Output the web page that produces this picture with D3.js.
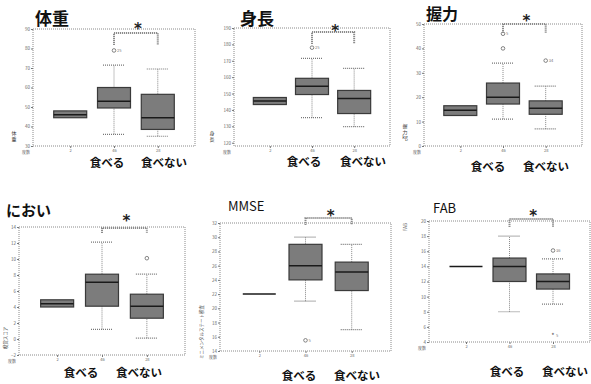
<!DOCTYPE html>
<html>
<head>
<meta charset="utf-8">
<script src="https://cdn.jsdelivr.net/npm/d3@7"></script>
<style>
  body { margin: 0; background: #fff; }
  text { font-family: "Noto Sans CJK JP", "Noto Sans", sans-serif; }
</style>
</head>
<body>
<svg id="chart" width="591" height="384"></svg>
<script>
// x groups
const groups = ["基準", "食べる", "食べない"];
const groupN = ["2", "46", "28"];

// box stats per group: [lower whisker, q1, median, q3, upper whisker]
const weightBoxes = [[44.5, 44.5, 46, 48, 48], [36, 49.5, 53, 60, 71.5], [35, 38.5, 44.5, 56.5, 69.5]];
const weightOutliers = [[1, 79, "25"]];
const weightTicks = [30, 40, 50, 60, 70, 80, 90];
const weightRange = [30, 90];

const heightBoxes = [[143.3, 143.3, 145.5, 147.6, 147.6], [135.3, 149.4, 154.4, 159.3, 171.5], [129.8, 137.8, 147, 151.9, 165.4]];
const heightOutliers = [[1, 178, "25"]];
const heightTicks = [120, 130, 140, 150, 160, 170, 180, 190];
const heightRange = [118, 190];

const gripBoxes = [[12.5, 12.5, 14.7, 16.5, 16.5], [11, 17.2, 20, 25.8, 34], [7, 13, 15.5, 18.5, 24.5]];
const gripOutliers = [[1, 40, ""], [1, 46, "5"], [2, 35, "34"]];
const gripTicks = [0, 10, 20, 30, 40, 50];
const gripRange = [0, 50];

const smellBoxes = [[4, 4, 4.4, 4.9, 4.9], [1.2, 4.1, 7.1, 8.1, 12.1], [0.1, 2.6, 4.1, 5.6, 8.1]];
const smellOutliers = [[2, 10.1, ""]];
const smellTicks = [-2, 0, 2, 4, 6, 8, 10, 12, 14];
const smellRange = [-2, 14];

const mmseBoxes = [[22, 22, 22, 22, 22], [21, 24, 26, 29, 30], [17, 22.5, 25.1, 26.5, 29]];
const mmseOutliers = [[1, 15.5, "5"]];
const mmseTicks = [14, 16, 18, 20, 22, 24, 26, 28, 30, 32];
const mmseRange = [14, 32];

const fabBoxes = [[14, 14, 14, 14, 14], [8, 12, 14, 15.1, 18], [9, 11, 12, 13, 15]];
const fabOutliers = [[2, 16.1, "36"]];
const fabExtremes = [[2, 4.9, "5"]];
const fabTicks = [4, 6, 8, 10, 12, 14, 16, 18, 20];
const fabRange = [4, 20];

// panel layout
const panels = [
  { title: "体重", tx: 35, ty: 25, ts: 17, tw: "bold", boxes: weightBoxes, out: weightOutliers, ext: [], ticks: weightTicks, range: weightRange,
    x0: 33, x1: 195, y0: 29, y1: 146, brTop: 33, brBot: 45, starY: 25, lab1: 107, lab2: 164, labY: 163,
    yTitle: ["体", "重"], ytx: 14, yty: 135, yRot: false },
  { title: "身長", tx: 240, ty: 25, ts: 17, tw: "bold", boxes: heightBoxes, out: heightOutliers, ext: [], ticks: heightTicks, range: heightRange,
    x0: 234, x1: 390, y0: 28, y1: 146, brTop: 32, brBot: 44, starY: 27, lab1: 304, lab2: 363, labY: 162,
    yTitle: ["身", "長"], ytx: 212, yty: 135, yRot: false },
  { title: "握力", tx: 426, ty: 20, ts: 16, tw: "bold", boxes: gripBoxes, out: gripOutliers, ext: [], ticks: gripTicks, range: gripRange,
    x0: 424, x1: 582, y0: 24, y1: 146, brTop: 24, brBot: 33, starY: 17, lab1: 488, lab2: 546, labY: 167,
    yTitle: ["握", "力", "kg"], ytx: 405, yty: 128, yRot: false },
  { title: "におい", tx: 6, ty: 216, ts: 15, tw: "bold", boxes: smellBoxes, out: smellOutliers, ext: [], ticks: smellTicks, range: smellRange,
    x0: 19, x1: 185, y0: 227, y1: 355, brTop: 228, brBot: 233, starY: 217, lab1: 81, lab2: 139, labY: 373,
    yTitle: "嗅覚スコア", ytx: 5, yty: 338, yRot: true },
  { title: "MMSE", tx: 228, ty: 211, ts: 13, tw: "normal", boxes: mmseBoxes, out: mmseOutliers, ext: [], ticks: mmseTicks, range: mmseRange,
    x0: 220, x1: 391, y0: 223, y1: 351, brTop: 218, brBot: 225, starY: 212, lab1: 299, lab2: 357, labY: 376,
    yTitle: "ミニメンタルステート検査", ytx: 201, yty: 332, yRot: true },
  { title: "FAB", tx: 433, ty: 213, ts: 13, tw: "normal", boxes: fabBoxes, out: fabOutliers, ext: fabExtremes, ticks: fabTicks, range: fabRange,
    x0: 429, x1: 590, y0: 221, y1: 342, brTop: 219, brBot: 227, starY: 212, lab1: 507, lab2: 565, labY: 372,
    yTitle: "FAB", ytx: 405, yty: 227, yRot: true }
];

const svg = d3.select("#chart");
const boxFill = "#7c7c7c";
const dotted = "1,1";

panels.forEach(function (p) {
  const g = svg.append("g");

  const x = d3.scalePoint()
    .domain(groups)
    .range([p.x0, p.x1])
    .padding(0.85);
  const y = d3.scaleLinear()
    .domain(p.range)
    .range([p.y1, p.y0]);

  // frame
  g.append("rect")
    .attr("x", p.x0).attr("y", p.y0)
    .attr("width", p.x1 - p.x0).attr("height", p.y1 - p.y0)
    .attr("fill", "none")
    .attr("stroke", "#8a8a8a")
    .attr("stroke-dasharray", dotted);

  // y axis
  const yAxis = d3.axisLeft(y).tickValues(p.ticks).tickSize(2).tickPadding(1);
  const ya = g.append("g").attr("transform", `translate(${p.x0},0)`).call(yAxis);
  ya.select(".domain").remove();
  ya.selectAll("line").attr("stroke", "#777");
  ya.selectAll("text").attr("font-size", 4.5).attr("fill", "#666");

  // x axis (group counts)
  const xAxis = d3.axisBottom(x).tickSize(2).tickPadding(1).tickFormat((d, i) => groupN[i]);
  const xa = g.append("g").attr("transform", `translate(0,${p.y1})`).call(xAxis);
  xa.select(".domain").remove();
  xa.selectAll("line").attr("stroke", "#777");
  xa.selectAll("text").attr("font-size", 4).attr("fill", "#666");
  g.append("text")
    .attr("x", p.x0 - 3).attr("y", p.y1 + 8)
    .attr("text-anchor", "end")
    .attr("font-size", 4).attr("fill", "#666")
    .text("度数");

  // boxes
  const bw = 33, cap = 22;
  p.boxes.forEach(function (b, i) {
    const cx = x(groups[i]);
    const bg = g.append("g");
    if (b[4] > b[3]) {
      bg.append("line").attr("x1", cx).attr("x2", cx).attr("y1", y(b[3])).attr("y2", y(b[4]))
        .attr("stroke", "#888").attr("stroke-dasharray", dotted);
      bg.append("line").attr("x1", cx - cap / 2).attr("x2", cx + cap / 2).attr("y1", y(b[4])).attr("y2", y(b[4]))
        .attr("stroke", "#777").attr("stroke-width", 1.2).attr("stroke-dasharray", dotted);
    }
    if (b[1] > b[0]) {
      bg.append("line").attr("x1", cx).attr("x2", cx).attr("y1", y(b[0])).attr("y2", y(b[1]))
        .attr("stroke", "#888").attr("stroke-dasharray", dotted);
      bg.append("line").attr("x1", cx - cap / 2).attr("x2", cx + cap / 2).attr("y1", y(b[0])).attr("y2", y(b[0]))
        .attr("stroke", "#777").attr("stroke-width", 1.2).attr("stroke-dasharray", dotted);
    }
    if (b[3] > b[1]) {
      bg.append("rect")
        .attr("x", cx - bw / 2).attr("y", y(b[3]))
        .attr("width", bw).attr("height", y(b[1]) - y(b[3]))
        .attr("fill", boxFill)
        .attr("stroke", "#3a3a3a").attr("stroke-width", 1.2);
    }
    bg.append("line")
      .attr("x1", cx - bw / 2).attr("x2", cx + bw / 2)
      .attr("y1", y(b[2])).attr("y2", y(b[2]))
      .attr("stroke", "#1a1a1a").attr("stroke-width", 1.5);
  });

  // outliers
  p.out.forEach(function (o) {
    const cx = x(groups[o[0]]);
    g.append("circle").attr("cx", cx).attr("cy", y(o[1])).attr("r", 1.8)
      .attr("fill", "none").attr("stroke", "#666").attr("stroke-width", 0.8);
    g.append("text").attr("x", cx + 3).attr("y", y(o[1]) + 1.5)
      .attr("font-size", 4).attr("fill", "#777").text(o[2]);
  });
  p.ext.forEach(function (o) {
    const cx = x(groups[o[0]]);
    g.append("text").attr("x", cx).attr("y", y(o[1]) + 3)
      .attr("text-anchor", "middle").attr("font-size", 7).attr("fill", "#555").text("*");
    g.append("text").attr("x", cx + 3).attr("y", y(o[1]) + 2)
      .attr("font-size", 4).attr("fill", "#777").text(o[2]);
  });

  // significance bracket
  const bx1 = x(groups[1]), bx2 = x(groups[2]);
  g.append("path")
    .attr("d", `M${bx1},${p.brBot}V${p.brTop}H${bx2}V${p.brBot}`)
    .attr("fill", "none")
    .attr("stroke", "#8c8c8c").attr("stroke-width", 2)
    .attr("stroke-dasharray", "1.2,0.8");
  g.append("text")
    .attr("x", (bx1 + bx2) / 2 + 2).attr("y", p.starY + 9)
    .attr("text-anchor", "middle")
    .style("font-family", "'DejaVu Sans', sans-serif")
    .attr("font-size", 15).attr("font-weight", "bold").attr("fill", "#222")
    .text("*");

  // title
  g.append("text")
    .attr("x", p.tx).attr("y", p.ty)
    .attr("font-size", p.ts).attr("font-weight", p.tw).attr("fill", "#111")
    .text(p.title);

  // category labels
  g.append("text").attr("x", p.lab1).attr("y", p.labY).attr("dy", "0.35em")
    .attr("text-anchor", "middle").attr("font-size", 11.5).attr("font-weight", "bold").attr("fill", "#111")
    .text(groups[1]);
  g.append("text").attr("x", p.lab2).attr("y", p.labY).attr("dy", "0.35em")
    .attr("text-anchor", "middle").attr("font-size", 11.5).attr("font-weight", "bold").attr("fill", "#111")
    .text(groups[2]);

  // y axis title
  if (p.yRot) {
    g.append("text")
      .attr("transform", `translate(${p.ytx},${p.yty}) rotate(-90)`)
      .attr("text-anchor", "middle").attr("dy", "0.35em")
      .attr("font-size", 4.5).attr("fill", "#555")
      .text(p.yTitle);
  } else {
    p.yTitle.forEach(function (t, i) {
      g.append("text")
        .attr("x", p.ytx).attr("y", p.yty + i * 5.5)
        .attr("text-anchor", "middle").attr("font-size", 5).attr("fill", "#444")
        .text(t);
    });
  }
});
</script>
</body>
</html>
